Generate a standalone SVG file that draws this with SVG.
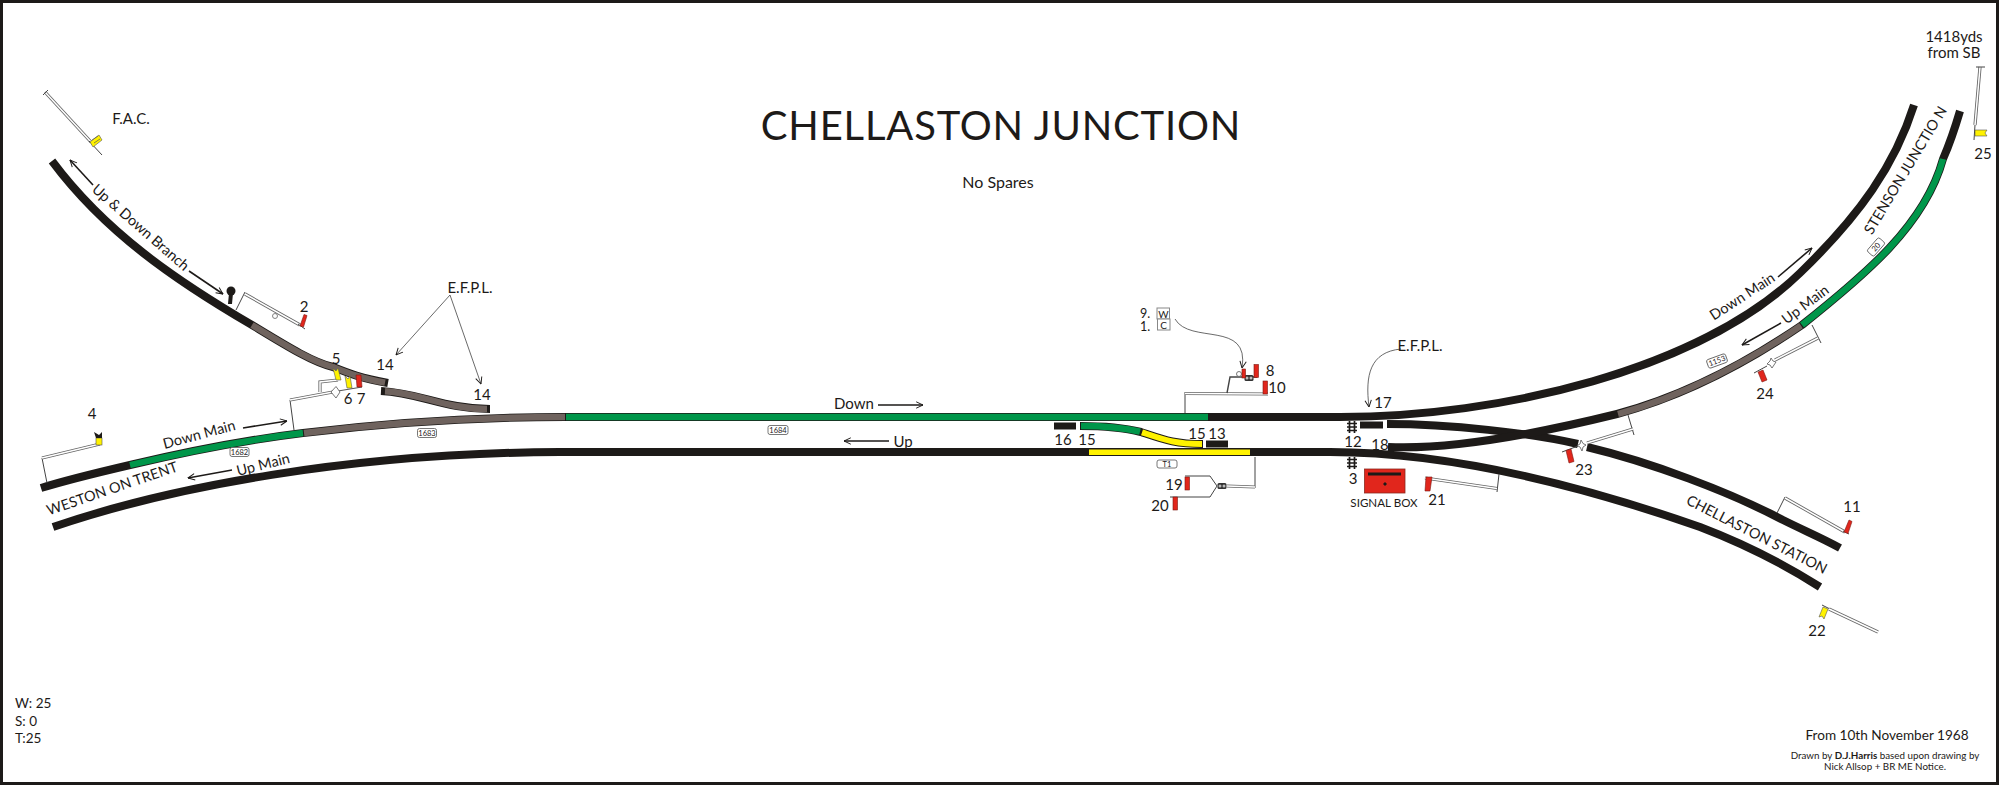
<svg xmlns="http://www.w3.org/2000/svg" width="2000" height="786" viewBox="0 0 2000 786">
<defs>
<style>
text{font-family:Lato,"Liberation Sans",sans-serif;fill:#1d1a18;font-size:15px;text-anchor:middle;dominant-baseline:central}
.trk{fill:none;stroke-width:8;stroke-linecap:butt}
.blk{stroke:#1d1a18}
.gry{stroke:#6f635e;stroke-width:6.400}.grn{stroke:#00964a;stroke-width:6.400}.yel{stroke:#fff200;stroke-width:6}
.wire{fill:none;stroke:#444;stroke-width:1}
.rod{fill:none;stroke:#666;stroke-width:3.200}
.rodi{fill:none;stroke:#fff;stroke-width:1.500}
.dir{fill:none;stroke:#1d1a18;stroke-width:1.600;marker-end:url(#head)}
.thin{fill:none;stroke:#444;stroke-width:.8;marker-end:url(#head)}
.red{fill:#e1261c;stroke:#7a1a12;stroke-width:.6}
.amber{fill:#fff200;stroke:#555;stroke-width:.6}
.mile{fill:#fff;stroke:#555;stroke-width:.8}
.mt{font-size:7.500px}
.blockout{fill:#1d1a18}
</style>
<marker id="head" viewBox="0 0 10 10" refX="9.500" refY="5" markerWidth="8" markerHeight="8" markerUnits="userSpaceOnUse" orient="auto"><path d="M1,1 L9.500,5 L1,9" fill="none" stroke="#1d1a18" stroke-width="1.200"/></marker>
<g id="gate"><path d="M-2.500,-6V6M2.500,-6V6M-5,-3.500H5M-5,0H5M-5,3.500H5" fill="none" stroke="#1d1a18" stroke-width="1.700"/></g>
<g id="lock"><rect x="-4.500" y="-3" width="9" height="6" rx="1.500" fill="#333"/><circle cx="-2" cy="0" r="1.500" fill="#bbb"/><circle cx="2" cy="0" r="1.500" fill="#bbb"/></g>
</defs>
<rect x="1.500" y="1.500" width="1996" height="782" fill="#fff" stroke="#1d1a18" stroke-width="3"/>

<g id="connectors">
<!-- black base of every running line -->
<path class="trk blk" d="M52,161C105,232 175,280 252,325C285,345 312,362 333,367C348,373 360,378 388,383"/>
<path class="trk blk" d="M381,391C420,393 445,409 490,409"/>
<path class="trk blk" d="M41,488C70,479 100,472 130,465C185,452 245,440 303,433C385,423 470,417 565,417H1340C1500,417 1700,370 1800,273C1860,215 1895,165 1914,105"/>
<path class="trk blk" d="M53,527C170,487 350,453 560,452H1330C1450,452 1580,485 1700,527C1750,546 1790,568 1820,587"/>
<path class="trk blk" d="M1387,424C1450,424 1530,433 1578,444M1587,447C1650,462 1730,492 1783,520C1805,531 1822,538 1840,548"/>
<path class="trk blk" d="M1388,447C1450,450 1540,433 1617,414C1680,397 1745,364 1802,325C1865,275 1925,225 1943,159C1950,143 1955,128 1960,111"/>
<!-- coloured track circuits laid over the base -->
<path class="trk gry" d="M252,325C285,345 312,362 333,367C348,373 360,378 385,382.700"/>
<path class="trk gry" d="M385,391.200C420,393 445,409 487,409"/>
<path class="trk grn" d="M130,465C185,452 245,440 303,433"/>
<path class="trk gry" d="M304,433C385,423 470,417 565,417"/>
<path class="trk grn" d="M566,417H1208"/>
<path class="trk gry" d="M1618,414C1680,397 1745,364 1801,325.700"/>
<path class="trk grn" d="M1802,325C1865,275 1925,225 1943,159"/>
<!-- sidings and short blocks -->
<path class="trk blk" d="M1080,426C1105,426 1125,428 1141,432C1165,440 1175,444 1203,444"/>
<path class="trk grn" d="M1081,426C1105,426 1125,428 1140,431.700"/>
<path class="trk yel" d="M1142,432.300C1165,440 1175,444 1202,444"/>
<rect class="blockout" x="1054" y="422.500" width="22" height="7"/>
<rect class="blockout" x="1206" y="440.500" width="22" height="7"/>
<rect class="blockout" x="1360" y="421.500" width="23" height="7"/>
<rect x="1089" y="449.500" width="161" height="5.500" fill="#fff200"/>
<!-- direction arrows -->
<path class="dir" d="M93,185L70,160"/>
<path class="dir" d="M189,271L223,294"/>
<path class="dir" d="M243,428L287,421"/>
<path class="dir" d="M232,470L188,478"/>
<path class="dir" d="M878,405H923"/>
<path class="dir" d="M889,441H844"/>
<path class="dir" d="M1778,277L1812,248"/>
<path class="dir" d="M1781,323L1742,345"/>
<!-- callouts -->
<path class="thin" d="M450,295L396,355"/>
<path class="thin" d="M450,295L481,384"/>
<path class="thin" d="M1175,319C1190,345 1250,320 1242,368"/>
<path class="thin" d="M1401,349C1370,352 1365,375 1369,407"/>
</g>

<g id="signal-fac">
<path class="rod" d="M45,92L91,142"/><path class="rodi" d="M45,92L91,142"/>
<path class="wire" d="M43,95L48,90M89,141L102,155"/>
<path d="M90,142L99,135L102,140L93,147Z" fill="#fff200" stroke="#555" stroke-width=".6"/>
<path d="M92,140L98,136M94,143L100,139" stroke="#555" stroke-width=".7"/>
<text x="131" y="118">F.A.C.</text>
</g>
<g id="signal-2">
<path class="wire" d="M236,310L245,292"/>
<path class="rod" d="M245,294L300,325"/><path class="rodi" d="M245,294L300,325"/>
<path class="wire" d="M298,324L305,329"/>
<circle cx="275" cy="316" r="2.500" fill="none" stroke="#666" stroke-width=".8"/>
<path class="red" d="M300,326L304,314.500L307,315.500L303.500,327Z"/>
<text x="304" y="306">2</text>
</g>
<g id="ground-disc">
<circle cx="231" cy="291" r="4.500" fill="#1d1a18"/><path d="M229,293L228,304L232,304L233,293Z" fill="#1d1a18"/>
</g>
<g id="signal-4">
<path class="wire" d="M47,483L42,458"/>
<path class="rod" d="M42,458L100,444"/><path class="rodi" d="M42,458L100,444"/>
<rect class="amber" x="96" y="438" width="6" height="7"/>
<path d="M94,432L96,438H102L102,432L99,435Z" fill="#1d1a18"/>
<text x="92" y="413">4</text>
</g>
<g id="signals-5-6-7">
<path class="wire" d="M294,430L290,400"/>
<path class="rod" d="M290,400L333,392"/><path class="rodi" d="M290,400L333,392"/>
<path class="rod" d="M320,392V382L338,380"/><path class="rodi" d="M320,392V382L338,380"/>
<path d="M338,391L362,387" fill="none" stroke="#555" stroke-width="1"/>
<path d="M331,392L336,386.500L340,392L336,398Z" fill="#fff" stroke="#555" stroke-width=".8"/>
<path class="amber" d="M333,368L336,371L338,368L341,380L336,380Z"/>
<path class="amber" d="M345,376L348,379L350,376L352,388L347,388Z"/>
<path class="red" d="M356,375L361,375L362,387L357,387Z"/>
<text x="336" y="358">5</text>
<text x="348" y="398">6</text>
<text x="361" y="398">7</text>
<text x="385" y="364">14</text>
<text x="482" y="394">14</text>
<text x="470" y="287">E.F.P.L.</text>
</g>
<g id="signals-8-9-10">
<path class="wire" d="M1185,413V392"/>
<path class="rod" d="M1185,393.500L1268,394"/><path class="rodi" d="M1185,393.500L1268,394"/>
<path d="M1227,393L1230,377H1257" fill="none" stroke="#444" stroke-width="1.400"/>
<use href="#lock" x="1249" y="378"/>
<circle cx="1239" cy="374" r="2.500" fill="#fff" stroke="#555" stroke-width=".8"/>
<rect class="red" x="1242" y="369" width="3.500" height="9"/>
<rect class="red" x="1254" y="364.500" width="4.500" height="13"/>
<rect class="red" x="1263" y="381" width="4.500" height="13"/>
<text x="1270" y="370">8</text>
<text x="1277" y="387">10</text>
<rect x="1157" y="308" width="12.500" height="11" fill="#fff" stroke="#888"/>
<rect x="1157.500" y="319" width="12.500" height="11" fill="#fff" stroke="#888"/>
<text x="1163.500" y="313.500" style="font-size:10px">W</text>
<text x="1163.500" y="324.500" style="font-size:10px">C</text>
<text x="1145" y="313" style="font-size:12.500px">9.</text>
<text x="1145" y="326" style="font-size:12.500px">1.</text>
<text x="1420" y="345">E.F.P.L.</text>
<text x="1383" y="402">17</text>
</g>
<g id="signals-19-20">
<path class="wire" d="M1255,457V488"/>
<path class="rod" d="M1255,487L1227,486"/><path class="rodi" d="M1255,487L1227,486"/>
<use href="#lock" x="1222" y="486"/>
<path class="wire" d="M1217,486L1210,476H1185M1217,486L1210,497H1170" stroke-width="1.200"/>
<rect class="red" x="1185" y="477" width="4.500" height="13"/>
<rect class="red" x="1173" y="497" width="4.500" height="13"/>
<text x="1174" y="484">19</text>
<text x="1160" y="505">20</text>
</g>
<g id="signal-box">
<rect x="1364.500" y="469" width="40.500" height="24" fill="#e1261c" stroke="#8a2a20" stroke-width=".8"/>
<rect class="blockout" x="1368" y="472.500" width="33" height="3"/>
<path d="M1385,482L1387,484L1385,486L1383,484Z" fill="#1d1a18"/>
<text x="1384" y="502" style="font-size:11.600px">SIGNAL BOX</text>
</g>
<g id="crossings">
<use href="#gate" x="1352" y="427"/><use href="#gate" x="1352" y="463"/>
<text x="1353" y="441">12</text><text x="1380" y="444">18</text><text x="1353" y="478">3</text>
</g>
<g id="block-labels">
<text x="1063" y="439">16</text><text x="1087" y="439">15</text><text x="1197" y="433">15</text><text x="1217" y="433">13</text>
</g>
<g id="signal-21">
<path class="wire" d="M1499,474L1497,492"/>
<path class="rod" d="M1497,488.500L1425,478"/><path class="rodi" d="M1497,488.500L1425,478"/>
<path class="red" d="M1426,477H1432L1430,491H1425Z"/>
<text x="1437" y="499">21</text>
</g>
<g id="signal-23">
<path class="wire" d="M1628,415L1634,435"/>
<path class="rod" d="M1633,429L1587,443"/><path class="rodi" d="M1633,429L1587,443"/>
<path d="M1581,440L1583,443.500L1586,445L1583,447L1582,451L1580,447L1577,445.500L1580,444Z" fill="#fff" stroke="#555" stroke-width=".8"/>
<path class="wire" d="M1578,446L1562,452"/>
<path class="red" d="M1566,450.500L1571,449L1574,461.500L1569,463Z"/>
<text x="1584" y="469">23</text>
</g>
<g id="signal-24">
<path class="wire" d="M1812,325L1821,343"/>
<path class="rod" d="M1818,338L1775,360"/><path class="rodi" d="M1818,338L1775,360"/>
<path d="M1771,358L1773,361L1776,362L1774,365L1772,368L1770,365L1767,364L1770,361Z" fill="#fff" stroke="#555" stroke-width=".8"/>
<path class="wire" d="M1767,366L1754,373"/>
<path class="red" d="M1758,372L1763,370L1767,380L1762,382Z"/>
<text x="1765" y="393">24</text>
</g>
<g id="signal-25">
<path class="rod" d="M1980,67L1975,125"/><path class="rodi" d="M1980,67L1975,125"/>
<path class="wire" d="M1976,67H1985M1975,125L1974,140"/>
<path class="amber" d="M1975,130H1987L1985,133L1987,136H1975Z"/>
<text x="1983" y="153">25</text>
<text x="1954" y="36">1418yds</text>
<text x="1954" y="52">from SB</text>
</g>
<g id="signal-11">
<path class="wire" d="M1777,513L1785,497"/>
<path class="rod" d="M1785,498L1845,532"/><path class="rodi" d="M1785,498L1845,532"/>
<path class="wire" d="M1843,531L1849,534"/>
<path class="red" d="M1844,532L1849,520L1852,521.500L1848,533.500Z"/>
<text x="1852" y="506">11</text>
</g>
<g id="signal-22">
<path class="wire" d="M1822,605L1830,609"/>
<path class="rod" d="M1829,609L1878,632"/><path class="rodi" d="M1829,609L1878,632"/>
<path class="amber" d="M1823,607L1828,609L1824,619L1822,616L1819,617Z"/>
<text x="1817" y="630">22</text>
</g>

<g id="mileposts">
<rect class="mile" x="230" y="447.500" width="19" height="9" rx="2"/><text class="mt" x="239.500" y="452">1682</text>
<rect class="mile" x="417.500" y="428.500" width="19" height="9" rx="2"/><text class="mt" x="427" y="433">1683</text>
<rect class="mile" x="768" y="425.500" width="20" height="9" rx="2"/><text class="mt" x="778" y="430">1684</text>
<rect class="mile" x="1157" y="460" width="20" height="8" rx="2"/><text class="mt" x="1167" y="464">T1</text>
<g transform="translate(1717,361) rotate(-20)"><rect class="mile" x="-10" y="-4.500" width="20" height="9" rx="2"/><text class="mt" x="0" y="0">1153</text></g>
<g transform="translate(1876,247) rotate(-49)"><rect class="mile" x="-9" y="-4.500" width="18" height="9" rx="2"/><text class="mt" x="0" y="0">20</text></g>
</g>

<g id="line-names">
<text transform="translate(141,227) rotate(41)" style="font-size:14.500px">Up &amp; Down Branch</text>
<text transform="translate(199,434) rotate(-15)" style="font-size:14.500px">Down Main</text>
<text transform="translate(112,488) rotate(-19)" style="font-size:14.500px">WESTON ON TRENT</text>
<text transform="translate(263,464) rotate(-14)" style="font-size:14.500px">Up Main</text>
<text x="854" y="403">Down</text>
<text x="903" y="441">Up</text>
<text transform="translate(1742,296) rotate(-33)" style="font-size:14.500px">Down Main</text>
<text transform="translate(1805,304) rotate(-37)" style="font-size:14.500px">Up Main</text>
<text transform="translate(1905,170) rotate(-59)" style="font-size:14.500px">STENSON JUNCTIO N</text>
<text transform="translate(1757,534) rotate(27)" style="font-size:14.500px">CHELLASTON STATION</text>
</g>

<g id="titles">
<text x="1001" y="125" style="font-size:40px;letter-spacing:.8px">CHELLASTON JUNCTION</text>
<text x="998" y="181" style="font-size:16px">No Spares</text>
<text x="15" y="703" style="text-anchor:start;font-size:13.500px">W: 25</text>
<text x="15" y="721" style="text-anchor:start;font-size:13.500px">S: 0</text>
<text x="15" y="738" style="text-anchor:start;font-size:13.500px">T:25</text>
<text x="1887" y="735" style="font-size:13.600px">From 10th November 1968</text>
<text x="1885" y="755" style="font-size:9.800px">Drawn by <tspan font-weight="700">D.J.Harris</tspan> based upon drawing by</text>
<text x="1885" y="766" style="font-size:9.800px">Nick Allsop + BR ME Notice.</text>
</g>
</svg>
